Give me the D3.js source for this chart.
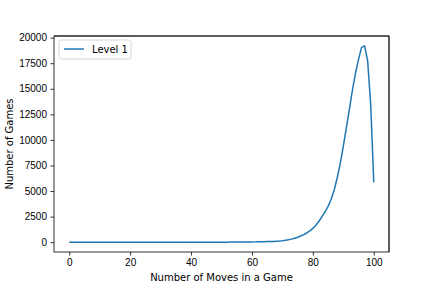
<!DOCTYPE html>
<html lang="en">
<head>
<meta charset="UTF-8">
<script src="https://cdn.jsdelivr.net/npm/d3@7"></script>
<style>
    body { margin: 0; background: white; }
    svg { font-family: 'DejaVu Sans', sans-serif; }
    .tick text { font-size: 10px; fill: #000; }
    .domain, .tick line { stroke: #000; stroke-width: 0.8px; }
</style>
</head>
<body>
<div id="chart"></div>
<script>
    // number of games for each move count 0..100
    const moves = d3.range(0, 101);
    const games = [
        0, 0, 0, 0, 0, 0, 0, 0, 0, 0,
        0, 0, 0, 0, 0, 0, 0, 0, 0, 0,
        0, 0, 0, 0, 0, 0, 0, 0, 0, 0,
        0, 0, 0, 0, 0, 0, 0, 0, 0, 0,
        0, 0, 0, 0, 0, 0, 0, 0, 0, 2,
        3, 4, 5, 6, 8, 10, 12, 15, 18, 20,
        25, 30, 35, 40, 48, 55, 65, 75, 90, 110,
        140, 180, 230, 300, 380, 480, 600, 740, 900, 1100,
        1350, 1650, 2050, 2500, 2950, 3500, 4200, 5100, 6300, 7700,
        9400, 11200, 13000, 14900, 16500, 17900, 19050, 19200, 17700, 13400,
        5850
    ];
    const xTicks = [0, 20, 40, 60, 80, 100];
    const yTicks = [0, 2500, 5000, 7500, 10000, 12500, 15000, 17500, 20000];
    const seriesName = "Level 1";

    const width = 432, height = 288;
    const margin = {left: 54, right: 43, top: 36, bottom: 36};

    const svg = d3.select("#chart").append("svg")
        .attr("width", width)
        .attr("height", height);

    // matplotlib-style 5% padding around the data
    const xPad = 5;
    const yMax = d3.max(games), yPad = yMax * 0.05;

    const x = d3.scaleLinear()
        .domain([-xPad, 100 + xPad])
        .range([margin.left, width - margin.right]);
    const y = d3.scaleLinear()
        .domain([-yPad, yMax + yPad])
        .range([height - margin.bottom, margin.top]);

    svg.append("g")
        .attr("transform", `translate(0,${height - margin.bottom})`)
        .call(d3.axisBottom(x).tickValues(xTicks).tickSize(3.5).tickPadding(3.5).tickFormat(d3.format("d")));

    svg.append("g")
        .attr("transform", `translate(${margin.left},0)`)
        .call(d3.axisLeft(y).tickValues(yTicks).tickSize(3.5).tickPadding(3.5).tickFormat(d3.format("d")));

    // top and right spines
    svg.append("line")
        .attr("x1", margin.left).attr("x2", width - margin.right)
        .attr("y1", margin.top).attr("y2", margin.top)
        .attr("stroke", "#000").attr("stroke-width", 0.8);
    svg.append("line")
        .attr("x1", width - margin.right).attr("x2", width - margin.right)
        .attr("y1", margin.top).attr("y2", height - margin.bottom)
        .attr("stroke", "#000").attr("stroke-width", 0.8);
    svg.selectAll(".domain").attr("d", null);
    svg.append("rect")
        .attr("x", margin.left).attr("y", margin.top)
        .attr("width", width - margin.left - margin.right)
        .attr("height", height - margin.top - margin.bottom)
        .attr("fill", "none").attr("stroke", "#000").attr("stroke-width", 0.8);

    const line = d3.line()
        .x((d, i) => x(moves[i]))
        .y(d => y(d));

    svg.append("path")
        .datum(games)
        .attr("fill", "none")
        .attr("stroke", "#1f77b4")
        .attr("stroke-width", 1.5)
        .attr("stroke-linejoin", "round")
        .attr("d", line);

    svg.append("text")
        .attr("x", (margin.left + width - margin.right) / 2)
        .attr("y", 281)
        .attr("text-anchor", "middle")
        .attr("font-size", 10)
        .text("Number of Moves in a Game");

    svg.append("text")
        .attr("transform", `translate(9,${(margin.top + height - margin.bottom) / 2}) rotate(-90)`)
        .attr("text-anchor", "middle")
        .attr("dominant-baseline", "central")
        .attr("font-size", 10)
        .text("Number of Games");

    // legend
    const legend = svg.append("g").attr("transform", `translate(${margin.left + 5},${margin.top + 4})`);
    legend.append("rect")
        .attr("width", 72).attr("height", 19)
        .attr("rx", 2.5)
        .attr("fill", "white").attr("fill-opacity", 0.8)
        .attr("stroke", "#ccc").attr("stroke-width", 0.8);
    legend.append("line")
        .attr("x1", 5).attr("x2", 25).attr("y1", 9).attr("y2", 9)
        .attr("stroke", "#1f77b4").attr("stroke-width", 1.5);
    legend.append("text")
        .attr("x", 33).attr("y", 13)
        .attr("font-size", 10)
        .text(seriesName);
</script>
</body>
</html>
